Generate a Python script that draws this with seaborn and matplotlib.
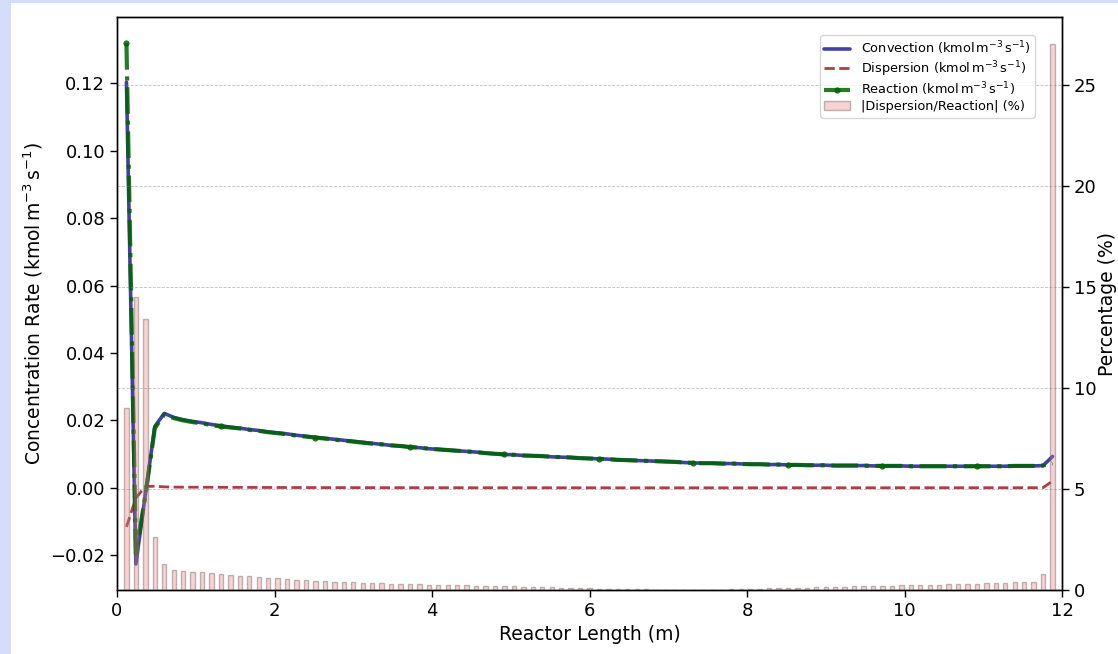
import numpy as np
import pandas as pd
import matplotlib
matplotlib.use("Agg")
import matplotlib.pyplot as plt
from matplotlib.patches import Rectangle
import seaborn as sns

# Axial positions of the grid nodes along the reactor (m)
reactor_length = np.round(np.arange(1, 100) * 0.12, 2)

# Convective term (kmol m^-3 s^-1)
convection = [
    0.1204, -0.0226, -0.0020, 0.0182, 0.0221, 0.0209, 0.0202, 0.0197, 0.0193, 0.0188,
    0.0184, 0.0180, 0.0177, 0.0173, 0.0170, 0.0166, 0.0163, 0.0160, 0.0156, 0.0153,
    0.0150, 0.0147, 0.0144, 0.0141, 0.0138, 0.0135, 0.0132, 0.0129, 0.0126, 0.0124,
    0.0121, 0.0119, 0.0116, 0.0114, 0.0112, 0.0110, 0.0108, 0.0106, 0.0103, 0.0101,
    0.0099, 0.0098, 0.0096, 0.0095, 0.0094, 0.0092, 0.0091, 0.0090, 0.0088, 0.0087,
    0.0086, 0.0085, 0.0083, 0.0082, 0.0081, 0.0080, 0.0079, 0.0078, 0.0077, 0.0075,
    0.0074, 0.0073, 0.0073, 0.0072, 0.0072, 0.0071, 0.0070, 0.0070, 0.0069, 0.0069,
    0.0068, 0.0068, 0.0067, 0.0067, 0.0067, 0.0066, 0.0066, 0.0066, 0.0066, 0.0065,
    0.0065, 0.0065, 0.0065, 0.0064, 0.0064, 0.0064, 0.0064, 0.0064, 0.0064, 0.0064,
    0.0064, 0.0064, 0.0064, 0.0064, 0.0065, 0.0065, 0.0065, 0.0066, 0.0093,
]

# Axial dispersion term (kmol m^-3 s^-1)
dispersion = [
    -0.0116, -0.0030, 0.00040, 0.00047, 0.00028, 0.00021, 0.00019, 0.00018, 0.00017, 0.00016,
    0.00015, 0.00013, 0.00013, 0.00012, 0.00011, 0.00010, 0.00009, 0.00009, 0.00008, 0.00007,
    0.00007, 0.00006, 0.00006, 0.00006, 0.00005, 0.00005, 0.00005, 0.00004, 0.00004, 0.00004,
    0.00004, 0.00003, 0.00003, 0.00003, 0.00003, 0.00003, 0.00002, 0.00002, 0.00002, 0.00002,
    0.00002, 0.00002, 0.00002, 0.00002, 0.00001, 0.00001, 0.00001, 0.00001, 0.00001, 0.00001,
    0.00001, 0.00001, 0.0, 0.0, 0.0, 0.0, 0.0, 0.0, 0.0, 0.0,
    0.0, 0.0, 0.0, 0.0, 0.0, 0.0, 0.0, 0.0, 0.00001, 0.00001,
    0.00001, 0.00001, 0.00001, 0.00001, 0.00001, 0.00001, 0.00001, 0.00001, 0.00001, 0.00001,
    0.00001, 0.00001, 0.00002, 0.00002, 0.00002, 0.00002, 0.00002, 0.00002, 0.00002, 0.00002,
    0.00002, 0.00002, 0.00002, 0.00002, 0.00002, 0.00003, 0.00003, 0.00005, 0.0020,
]

# Reaction term (kmol m^-3 s^-1)
reaction = [
    0.1320, -0.0196, -0.0024, 0.0177, 0.0218, 0.0207, 0.0200, 0.0195, 0.0191, 0.0186,
    0.0182, 0.0179, 0.0176, 0.0172, 0.0169, 0.0165, 0.0162, 0.0159, 0.0155, 0.0152,
    0.0149, 0.0146, 0.0143, 0.0140, 0.0137, 0.0134, 0.0131, 0.0129, 0.0126, 0.0124,
    0.0121, 0.0119, 0.0116, 0.0114, 0.0112, 0.0110, 0.0108, 0.0106, 0.0103, 0.0101,
    0.0099, 0.0098, 0.0096, 0.0095, 0.0094, 0.0092, 0.0091, 0.0090, 0.0088, 0.0087,
    0.0086, 0.0085, 0.0083, 0.0082, 0.0081, 0.0080, 0.0079, 0.0078, 0.0077, 0.0075,
    0.0074, 0.0073, 0.0073, 0.0072, 0.0072, 0.0071, 0.0070, 0.0070, 0.0069, 0.0069,
    0.0068, 0.0068, 0.0067, 0.0067, 0.0067, 0.0066, 0.0066, 0.0066, 0.0066, 0.0065,
    0.0065, 0.0065, 0.0065, 0.0064, 0.0064, 0.0064, 0.0064, 0.0064, 0.0064, 0.0064,
    0.0064, 0.0064, 0.0064, 0.0064, 0.0065, 0.0065, 0.0065, 0.0066, 0.0073,
]

# |Dispersion / Reaction| ratio (%)
ratio_pct = [
    9.0, 14.5, 13.4, 2.63, 1.27, 0.99, 0.95, 0.91, 0.87, 0.83,
    0.79, 0.75, 0.71, 0.68, 0.64, 0.60, 0.57, 0.54, 0.51, 0.48,
    0.46, 0.44, 0.42, 0.40, 0.38, 0.36, 0.35, 0.33, 0.31, 0.30,
    0.29, 0.28, 0.27, 0.26, 0.25, 0.24, 0.23, 0.22, 0.21, 0.20,
    0.19, 0.18, 0.17, 0.16, 0.15, 0.14, 0.12, 0.11, 0.10, 0.08,
    0.07, 0.06, 0.05, 0.04, 0.03, 0.03, 0.02, 0.02, 0.01, 0.01,
    0.01, 0.01, 0.02, 0.02, 0.03, 0.04, 0.05, 0.06, 0.08, 0.09,
    0.10, 0.11, 0.12, 0.13, 0.15, 0.16, 0.17, 0.18, 0.19, 0.20,
    0.21, 0.22, 0.23, 0.24, 0.25, 0.26, 0.27, 0.29, 0.30, 0.31,
    0.32, 0.33, 0.34, 0.36, 0.38, 0.40, 0.41, 0.77, 27.0,
]

unit = r"($\mathrm{kmol\,m^{-3}\,s^{-1}}$)"

df = pd.DataFrame({
    "z": reactor_length,
    "convection": convection,
    "dispersion": dispersion,
    "reaction": reaction,
    "ratio": ratio_pct,
})

sns.set_style("ticks", {
    "axes.edgecolor": "black",
    "axes.labelcolor": "black",
    "text.color": "black",
    "xtick.color": "black",
    "ytick.color": "black",
})
plt.rcParams["font.family"] = ["DejaVu Sans"]

fig = plt.figure(figsize=(11.18, 6.54), dpi=100)
fig.patch.set_facecolor("white")
# light surround strips
fig.patches.append(Rectangle((0, 0), 11 / 1118, 1, transform=fig.transFigure,
                             facecolor="#d4defb", edgecolor="none", zorder=-1))
fig.patches.append(Rectangle((0, 1 - 3 / 654), 1, 3 / 654, transform=fig.transFigure,
                             facecolor="#d4defb", edgecolor="none", zorder=-1))

ax = fig.add_axes([117 / 1118, 1 - 590 / 654, (1062 - 117) / 1118, (590 - 17) / 654])

sns.lineplot(data=df, x="z", y="convection", ax=ax, color="darkblue", alpha=0.75,
             linewidth=2.6, label=f"Convection {unit}")
sns.lineplot(data=df, x="z", y="dispersion", ax=ax, color="brown", alpha=0.9,
             linewidth=2.0, linestyle="--", label=f"Dispersion {unit}")
sns.lineplot(data=df, x="z", y="reaction", ax=ax, color="darkgreen", alpha=0.85,
             linewidth=3.0, linestyle="-.", marker="o", markersize=4.5,
             markeredgewidth=0, markevery=10, label=f"Reaction {unit}")

ax.set_xlim(0, 12)
ax.set_xlabel("Reactor Length (m)", fontsize=13.5)
ax.set_ylabel(f"Concentration Rate {unit}", fontsize=13.5)
ax.tick_params(axis="both", labelsize=13, length=5, width=1)

ax2 = ax.twinx()
ax2.bar(df["z"], df["ratio"], width=0.055,
        facecolor=(0.94, 0.50, 0.50, 0.35), edgecolor=(0.45, 0.40, 0.40, 0.45),
        linewidth=1.0, label="|Dispersion/Reaction| (%)")
ax2.set_ylabel("Percentage (%)", fontsize=13.5, labelpad=1)
ax2.tick_params(axis="y", labelsize=13, length=5, width=1)
ax2.grid(axis="y", linestyle="--", linewidth=0.6, color="gray", alpha=0.5)
ax2.set_xlim(0, 12)

for a in (ax, ax2):
    for s in a.spines.values():
        s.set_color("black")
        s.set_linewidth(1.0)

h1, l1 = ax.get_legend_handles_labels()
h2, l2 = ax2.get_legend_handles_labels()
if ax.get_legend() is not None:
    ax.get_legend().remove()
ax2.legend(h1 + h2, l1 + l2, loc="upper right", bbox_to_anchor=(0.9714, 0.9686),
           borderaxespad=0, fontsize=9.3, labelspacing=0.15, borderpad=0.35)

fig.savefig("out.png", dpi=100, facecolor=fig.get_facecolor())
